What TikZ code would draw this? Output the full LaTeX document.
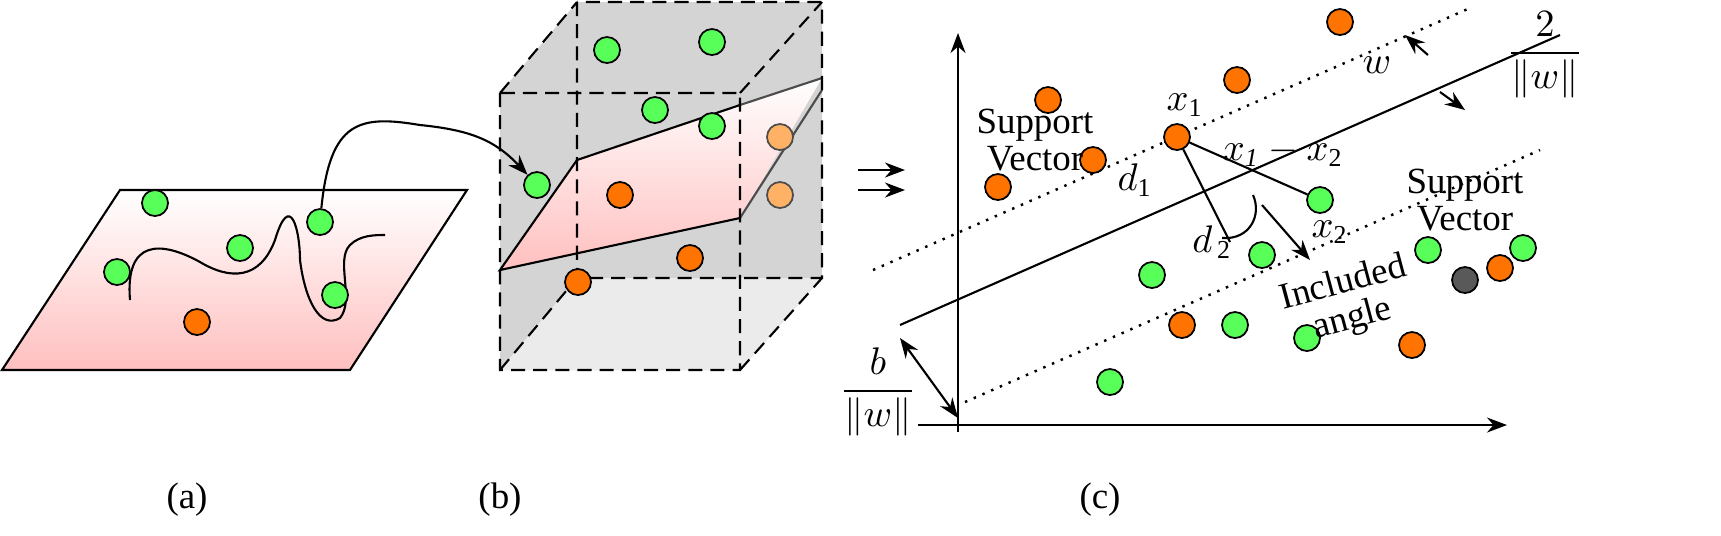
\documentclass[tikz,border=0pt]{standalone}
\usepackage{amsmath}
\usepackage{fontspec}
\setmainfont{Liberation Serif}
\usetikzlibrary{arrows.meta}
\begin{document}
\begin{tikzpicture}[x=0.01cm,y=-0.01cm,>=Stealth,line width=0.6pt]
    \tikzstyle{dot}=[circle,draw=black,line width=0.5pt,minimum size=7.4pt,inner sep=0pt]
    \tikzstyle{green dot}=[dot,fill=green!65];
    \tikzstyle{orange dot}=[dot,fill=orange!90!red];
    \tikzstyle{pale dot}=[dot,fill=orange!60,draw=black!70];
    \tikzstyle{gray dot}=[dot,fill=black!65];
    \tikzstyle{edge}=[dashed,line width=0.6pt,dash pattern=on 4pt off 2.3pt];
    \tikzstyle{lbl}=[font=\fontsize{10.5}{10.5}\selectfont,inner sep=1pt];
    \useasboundingbox (0,0) rectangle (1721,535);
    % panel (a)
    \shade[top color=white,bottom color=red!50!pink!40,draw=black]
        (2,370) -- (120,190) -- (467,190) -- (350,370) -- cycle;
    \draw (130,300) .. controls (125,240) and (160,240) .. (200,262)
        .. controls (230,280) and (260,280) .. (275,240) .. controls (290,190) and (300,230) .. (300,260)
        .. controls (305,300) and (320,330) .. (340,318) .. controls (355,300) and (335,260) .. (350,245)
        .. controls (360,235) and (375,235) .. (385,235);
    \foreach \name / \p in {a1/{155,203}, a2/{240,248}, a3/{320,222}, a4/{117,272}, a5/{335,295}}
        \node[green dot] (\name) at (\p) {};
    \node[orange dot] (a6) at (197,322) {};
    % panel (b)
    \fill[black!17] (500,93) -- (577,2) -- (822,2) -- (822,278) -- (740,370) -- (500,370) -- cycle;
    \fill[black!8] (500,370) -- (577,278) -- (822,278) -- (740,370) -- cycle;
    \shade[top color=white,bottom color=red!50!pink!40] (500,270) -- (577,160) -- (822,78) -- (740,218) -- cycle;
    \draw (740,218) -- (500,270) -- (577,160) -- (740,105);
    \draw[black!70] (740,105) -- (822,78) (740,218) -- (822,90);
    \draw[edge] (500,93) rectangle (740,370) (577,2) rectangle (822,278)
        (500,93) -- (577,2) (740,93) -- (822,2) (740,370) -- (822,278) (500,370) -- (577,278);
    \foreach \name / \p in {b1/{607,50}, b2/{712,42}, b3/{655,110}, b4/{712,126}, b5/{537,185}}
        \node[green dot] (\name) at (\p) {};
    \foreach \name / \p in {b6/{620,195}, b7/{690,258}, b8/{578,282}}
        \node[orange dot] (\name) at (\p) {};
    \node[pale dot] (b9) at (780,137) {};
    \node[pale dot] (b10) at (780,195) {};
    \draw[->] (a3) .. controls (330,120) and (360,115) .. (420,125)
        .. controls (470,130) and (495,140) .. (b5);
    % panel (c)
    \coordinate (yb) at (958,432); \coordinate (yt) at (958,33);
    \coordinate (xl) at (918,425); \coordinate (xr) at (1507,425);
    \draw[->] (yb) -- (yt);
    \draw[->] (xl) -- (xr);
    \draw (900,325) -- (1560,35);
    \draw[dotted,line width=0.7pt] (873,270) -- (1470,8);
    \draw[dotted,line width=0.7pt] (965,402) -- (1540,150);
    \foreach \name / \p in {c1/{1340,22}, c2/{1237,80}, c3/{1048,100}, c4/{1093,160}, c5/{998,187},
        c6/{1182,325}, c7/{1412,345}, c8/{1500,268}}
        \node[orange dot] (\name) at (\p) {};
    \node[orange dot] (x1) at (1177,137) {};
    \node[green dot] (x2) at (1320,200) {};
    \foreach \name / \p in {c9/{1262,255}, c10/{1152,275}, c11/{1235,325}, c12/{1307,338},
        c13/{1110,382}, c14/{1428,250}, c15/{1523,248}}
        \node[green dot] (\name) at (\p) {};
    \node[gray dot] (c16) at (1465,280) {};
    \coordinate (foot) at (1230,242);
    \draw (x1) -- (x2) (x1) -- (foot);
    \draw (1253,195) .. controls (1262,215) and (1250,240) .. (1222,238);
    \draw[->] (1262,205) -- (1310,260);
    \draw[->] (1428,55) -- (1405,35);
    \draw[->] (1440,92) -- (1465,110);
    \draw[<->] (900,338) -- (958,418);
    \draw[->] (858,170) -- (905,170);
    \draw[->] (858,190) -- (905,190);
    \node[lbl] (tw) at (1545,55) {$\dfrac{2}{\|w\|}$};
    \node[lbl] (bw) at (878,392) {$\dfrac{b}{\|w\|}$};
    \node[lbl] (lw) at (1377,65) {$w$};
    \node[lbl,align=center] (sv1) at (1035,140) {Support\\Vector};
    \node[lbl,align=center] (sv2) at (1465,200) {Support\\Vector};
    \node[lbl] (lx1) at (1185,105) {$x_{\mathrm{1}}$};
    \node[lbl] (lx2) at (1330,232) {$x_{\mathrm{2}}$};
    \node[lbl] (lx12) at (1283,152) {$x_{\mathit{1}}-x_{\mathrm{2}}$};
    \node[lbl] (ld1) at (1135,180) {$d_{\mathrm{1}}$};
    \node[lbl] (ld2) at (1212,242) {$d_{\,\mathrm{2}}$};
    \node[lbl,align=center,rotate=15] (ang) at (1348,302) {Included\\angle};
    \node[lbl] (pa) at (187,500) {(a)};
    \node[lbl] (pb) at (500,500) {(b)};
    \node[lbl] (pc) at (1100,500) {(c)};
\end{tikzpicture}
\end{document}
